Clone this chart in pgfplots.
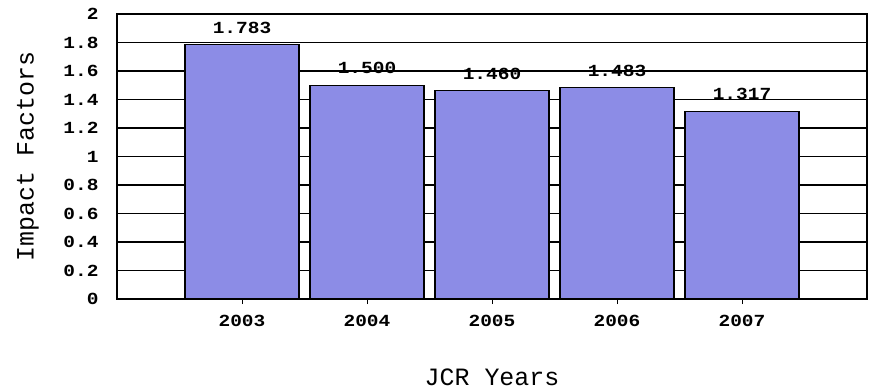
\documentclass[border=0pt]{standalone}
\usepackage{pgfplots}
\pgfplotsset{compat=1.18}
\usepackage{fontspec}
\newfontfamily\ticksfont[FakeStretch=1.15]{Liberation Mono}
\newfontfamily\labelfont{Liberation Mono}
\definecolor{barblue}{RGB}{140,140,230}

\pgfplotstableread{
year value
2003 1.783
2004 1.500
2005 1.460
2006 1.483
2007 1.317
}\impact

\begin{document}
\begin{tikzpicture}
\path[use as bounding box] (-117bp,-90bp) rectangle (754bp,299bp);
\begin{axis}[
  at={(0,0)}, anchor=south west,
  scale only axis, width=750bp, height=285bp,
  xmin=2002, xmax=2008, ymin=0, ymax=2,
  xtick={2003,2004,2005,2006,2007},
  ytick={0,0.2,0.4,0.6,0.8,1,1.2,1.4,1.6,1.8,2},
  yticklabels={0,0.2,0.4,0.6,0.8,1,1.2,1.4,1.6,1.8,2},
  xticklabels={2003,2004,2005,2006,2007},
  xtick pos=bottom,
  ytick style={draw=none},
  xtick style={black, line width=1pt},
  tick align=outside,
  major tick length=5bp,
  axis line style={black, line width=1.1pt},
  tick label style={font=\ticksfont\bfseries\fontsize{17}{17}\selectfont},
  yticklabel style={xshift=-10bp},
  xticklabel style={yshift=-8bp},
  xlabel={JCR Years},
  ylabel={Impact Factors},
  label style={font=\labelfont\fontsize{25}{25}\selectfont},
  xlabel style={at={(axis description cs:0.5,-0.274)}, anchor=center},
  ylabel style={at={(axis description cs:-0.1187,0.5)}, anchor=center, rotate=0},
  ybar, bar width=0.912, bar shift=0pt,
  clip=false,
]
% value labels first, so the grid lines run across them
\addplot[draw=none, fill=none,
  nodes near coords={\pgfmathprintnumber[fixed,fixed zerofill,precision=3,assume math mode=true]{\pgfplotspointmeta}},
  every node near coord/.append style={font=\ticksfont\bfseries\fontsize{17}{17}\selectfont, anchor=south, inner sep=0pt, yshift=11bp, black},
] table[x=year, y=value] {\impact};
% horizontal grid lines
\pgfplotsinvokeforeach{0.2,0.4,0.6,0.8,1,1.2,1.4,1.6,1.8}{
  \draw[black, line width=1.1pt] (axis cs:2002,#1) -- (axis cs:2008,#1);
}
% bars on top of the grid
\addplot[fill=barblue, draw=black, line width=1.1pt] table[x=year, y=value] {\impact};
\end{axis}
\end{tikzpicture}
\end{document}
